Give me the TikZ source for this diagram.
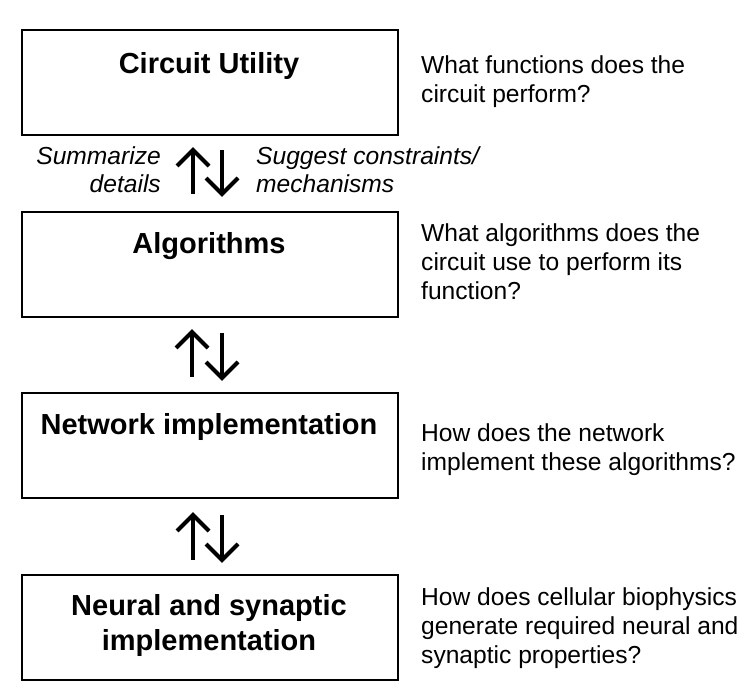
\documentclass[tikz,border=0pt]{standalone}
\usepackage{fontspec}
\setmainfont{Liberation Sans}
\begin{document}
\begin{tikzpicture}[x=1pt,y=-1pt,
  levelbox/.style={draw, line width=2pt, minimum width=376pt, minimum height=105pt, inner sep=0pt, anchor=north west},
  heading/.style={anchor=base, inner sep=0pt, align=center, font=\fontsize{29}{35}\selectfont\bfseries},
  question/.style={anchor=base west, inner sep=0pt, align=left, font=\fontsize{24.6}{29}\selectfont},
  note/.style={inner sep=0pt, font=\fontsize{24.6}{28.5}\selectfont\itshape},
  arrowline/.style={line width=4pt, line cap=butt, line join=miter}]
\useasboundingbox (0,0) rectangle (752,700);

% boxes
\node[levelbox] (box1) at (21,29) {};
\node[levelbox] (box2) at (21,211) {};
\node[levelbox] (box3) at (21,392) {};
\node[levelbox] (box4) at (21,574) {};

% headings (base anchor = baseline of the last line)
\node[heading] (h1) at (209,74) {Circuit Utility};
\node[heading] (h2) at (209,254) {Algorithms};
\node[heading] (h3) at (209,434) {Network implementation};
\node[heading] (h4) at (209,650) {Neural and synaptic\\implementation};

% questions
\node[question] (q1) at (421,103) {What functions does the\\circuit perform?};
\node[question] (q2) at (421,300) {What algorithms does the\\circuit use to perform its\\function?};
\node[question] (q3) at (421,470) {How does the network\\implement these algorithms?};
\node[question] (q4) at (421,663) {How does cellular biophysics\\generate required neural and\\synaptic properties?};

% side notes
\node[note, anchor=base east, align=right] (n1) at (161,193) {Summarize\\details};
\node[note, anchor=base west, align=left] (n2) at (256,193) {Suggest constraints/\\mechanisms};

% arrow end points
\coordinate (u1b) at (193,194); \coordinate (u1t) at (193,150);
\coordinate (d1t) at (222,150); \coordinate (d1b) at (222,194);
\coordinate (u2b) at (192,377); \coordinate (u2t) at (192,332);
\coordinate (d2t) at (222,333); \coordinate (d2b) at (222,378);
\coordinate (u3b) at (193,560); \coordinate (u3t) at (193,515);
\coordinate (d3t) at (222,515); \coordinate (d3b) at (222,560);

% up arrows
\foreach \b/\t in {u1b/u1t, u2b/u2t, u3b/u3t}{
  \draw[arrowline] (\b) -- (\t);
  \draw[arrowline] ([shift={(-16,16)}]\t) -- (\t) -- ([shift={(16,16)}]\t);
}
% down arrows
\foreach \t/\b in {d1t/d1b, d2t/d2b, d3t/d3b}{
  \draw[arrowline] (\t) -- (\b);
  \draw[arrowline] ([shift={(-16,-16)}]\b) -- (\b) -- ([shift={(16,-16)}]\b);
}
\end{tikzpicture}
\end{document}
